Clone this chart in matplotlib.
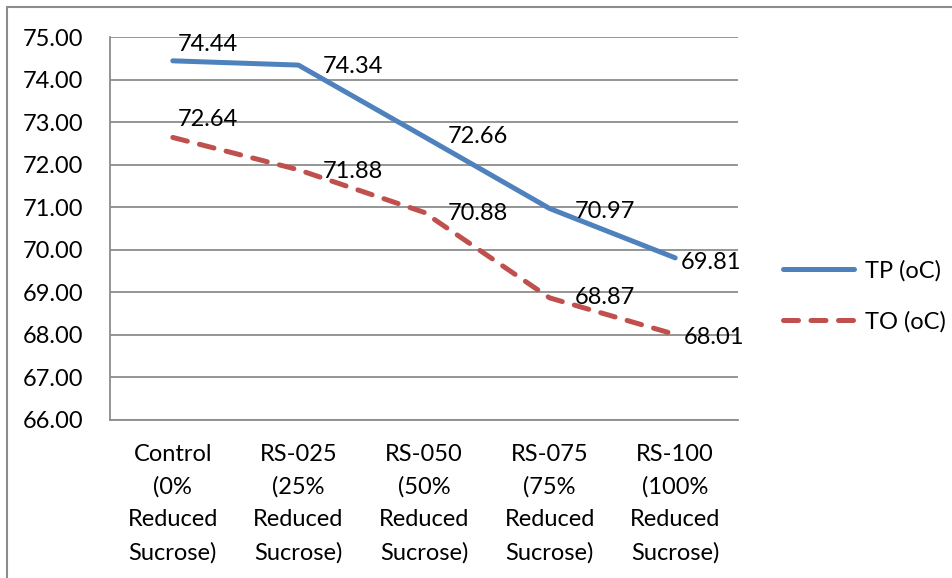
import matplotlib
matplotlib.use("Agg")
import matplotlib.pyplot as plt
from matplotlib.patches import Rectangle
from matplotlib.lines import Line2D

categories = ["Control\n(0%\nReduced\nSucrose)", "RS-025\n(25%\nReduced\nSucrose)",
              "RS-050\n(50%\nReduced\nSucrose)", "RS-075\n(75%\nReduced\nSucrose)",
              "RS-100\n(100%\nReduced\nSucrose)"]
tp_values = [74.44, 74.34, 72.66, 70.97, 69.81]
to_values = [72.64, 71.88, 70.88, 68.87, 68.01]
y_ticks = [66, 67, 68, 69, 70, 71, 72, 73, 74, 75]
series_names = ["TP (oC)", "TO (oC)"]

# label offsets in pixels (dx, dy) relative to each point
tp_offsets = [(5, 16), (24, -1), (24, 0), (25, -3), (6, -5)]
to_offsets = [(5, 18), (24, -2), (24, -1), (25, 0), (9, -3)]

plt.rcParams['font.family'] = ['Lato', 'DejaVu Sans']
FS = 17

fig = plt.figure(figsize=(9.52, 5.78), dpi=100)
W, H = 952, 578
ax = fig.add_axes([110 / W, 1 - 420 / H, (738 - 110) / W, (420 - 37) / H])

# figure border (top and left visible)
fig.patches.append(Rectangle((7 / W, -0.1), 1.2, 1 - 7 / H + 0.1, transform=fig.transFigure,
                             fill=False, edgecolor="#8c8c8c", linewidth=1.5))

blue = "#4F81BD"
red = "#C0504D"
x = list(range(len(categories)))
dash = (0, (3.0, 2.5))

ax.plot(x, tp_values, color=blue, lw=3.6, solid_capstyle="round", solid_joinstyle="round",
        zorder=3, label=series_names[0])
ax.plot(x, to_values, color=red, lw=3.6, linestyle=dash, dash_capstyle="round",
        zorder=3, label=series_names[1])

for xi, v, (dx, dy) in zip(x, tp_values, tp_offsets):
    ax.annotate(f"{v:.2f}", (xi, v), xytext=(dx * 0.72, dy * 0.72), textcoords="offset points",
                ha="left", va="center", fontsize=FS, zorder=4)
for xi, v, (dx, dy) in zip(x, to_values, to_offsets):
    ax.annotate(f"{v:.2f}", (xi, v), xytext=(dx * 0.72, dy * 0.72), textcoords="offset points",
                ha="left", va="center", fontsize=FS, zorder=4)

ax.set_xlim(-0.5, len(categories) - 0.5)
ax.set_ylim(66, 75)
ax.set_yticks(y_ticks)
ax.set_yticklabels([f"{t:.2f}" for t in y_ticks], fontsize=FS)
ax.set_xticks(x)
ax.set_xticklabels(categories, fontsize=FS, linespacing=1.67)
ax.tick_params(axis="both", length=0)
ax.tick_params(axis="y", pad=19)
ax.tick_params(axis="x", pad=17)
ax.grid(axis="y", color="#8c8c8c", linewidth=1.3)
ax.set_axisbelow(True)
for s in ["top", "right"]:
    ax.spines[s].set_visible(False)
for s in ["left", "bottom"]:
    ax.spines[s].set_color("#8c8c8c")
    ax.spines[s].set_linewidth(1.3)

handles = [Line2D([], [], color=blue, lw=3.6, solid_capstyle="round"),
           Line2D([], [], color=red, lw=3.6, linestyle=dash, dash_capstyle="round")]
fig.legend(handles, series_names, loc="center left", bbox_to_anchor=(762 / W, 1 - 296 / H),
           frameon=False, fontsize=FS, handlelength=3.0, labelspacing=1.25, handletextpad=0.45)

fig.savefig("out.png", dpi=100)
